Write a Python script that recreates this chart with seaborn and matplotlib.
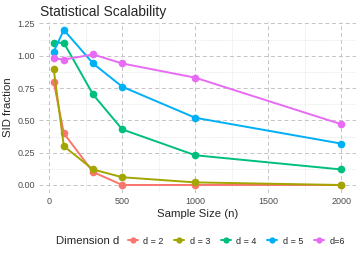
import pandas as pd
import matplotlib
matplotlib.use("Agg")
import matplotlib.pyplot as plt
import seaborn as sns
from matplotlib.ticker import MultipleLocator, FormatStrFormatter
from matplotlib.lines import Line2D

# ============================================================
#  DATA
# ============================================================

sample_sizes = [30, 100, 300, 500, 1000, 2000]
dim_labels   = ["d = 2", "d = 3", "d = 4", "d = 5", "d=6"]
sid_d2 = [0.80, 0.40, 0.10, 0.00, 0.00, 0.00]
sid_d3 = [0.90, 0.30, 0.12, 0.06, 0.02, 0.00]
sid_d4 = [1.10, 1.10, 0.70, 0.43, 0.23, 0.12]
sid_d5 = [1.03, 1.20, 0.94, 0.76, 0.52, 0.32]
sid_d6 = [0.98, 0.97, 1.01, 0.94, 0.83, 0.47]
colors = ["#F8766D", "#A3A500", "#00BF7D", "#00B0F6", "#E76BF3"]

rows = []
for lab, vals in zip(dim_labels, [sid_d2, sid_d3, sid_d4, sid_d5, sid_d6]):
    for n, v in zip(sample_sizes, vals):
        rows.append({"n": n, "sid": v, "dim": lab})
df = pd.DataFrame(rows)

# ============================================================
#  PLOT
# ============================================================

sns.set_theme(style="white")
plt.rcParams['font.family'] = ['Liberation Sans', 'DejaVu Sans']

fig = plt.figure(figsize=(3.6, 2.57), dpi=100)
ax = fig.add_axes([0.109, 0.250, 0.879, 0.664])

sns.lineplot(data=df, x="n", y="sid", hue="dim", hue_order=dim_labels,
             palette=colors, marker="o", markersize=5.5, markeredgewidth=0,
             linewidth=1.4, ax=ax, legend=False)

ax.set_xlim(-68.5, 2098.5)
ax.set_ylim(-0.06, 1.26)
ax.xaxis.set_major_locator(MultipleLocator(500))
ax.xaxis.set_minor_locator(MultipleLocator(250))
ax.yaxis.set_major_locator(MultipleLocator(0.25))
ax.yaxis.set_minor_locator(MultipleLocator(0.125))
ax.yaxis.set_major_formatter(FormatStrFormatter('%.2f'))

ax.grid(which="major", color="#c4c4c4", linestyle=(0, (4, 3)), linewidth=0.7)
ax.grid(which="minor", color="#e0e0e0", linestyle=(0, (1.5, 1.5)), linewidth=0.5)
ax.set_axisbelow(True)
for s in ax.spines.values():
    s.set_visible(False)
ax.tick_params(axis="both", which="both", length=0, labelsize=6.5,
               labelcolor="#4d4d4d", pad=3)

ax.set_xlabel("Sample Size (n)", fontsize=8.2, labelpad=2)
ax.set_ylabel("SID fraction", fontsize=8.2, labelpad=3)
fig.text(0.111, 0.955, "Statistical Scalability", fontsize=10, ha="left", va="center")

handles = [Line2D([0], [0], color=c, marker="o", markersize=4.5, markeredgewidth=0, linewidth=1.4)
           for c in colors]
fig.text(0.155, 0.062, "Dimension d", fontsize=8.2, ha="left", va="center")
fig.legend(handles, dim_labels, loc="center left", bbox_to_anchor=(0.355, 0.062),
           ncol=5, frameon=False, fontsize=6.5, handlelength=1.1, handletextpad=0.6,
           columnspacing=1.2, borderaxespad=0, borderpad=0)

fig.savefig("out.png", dpi=100)
